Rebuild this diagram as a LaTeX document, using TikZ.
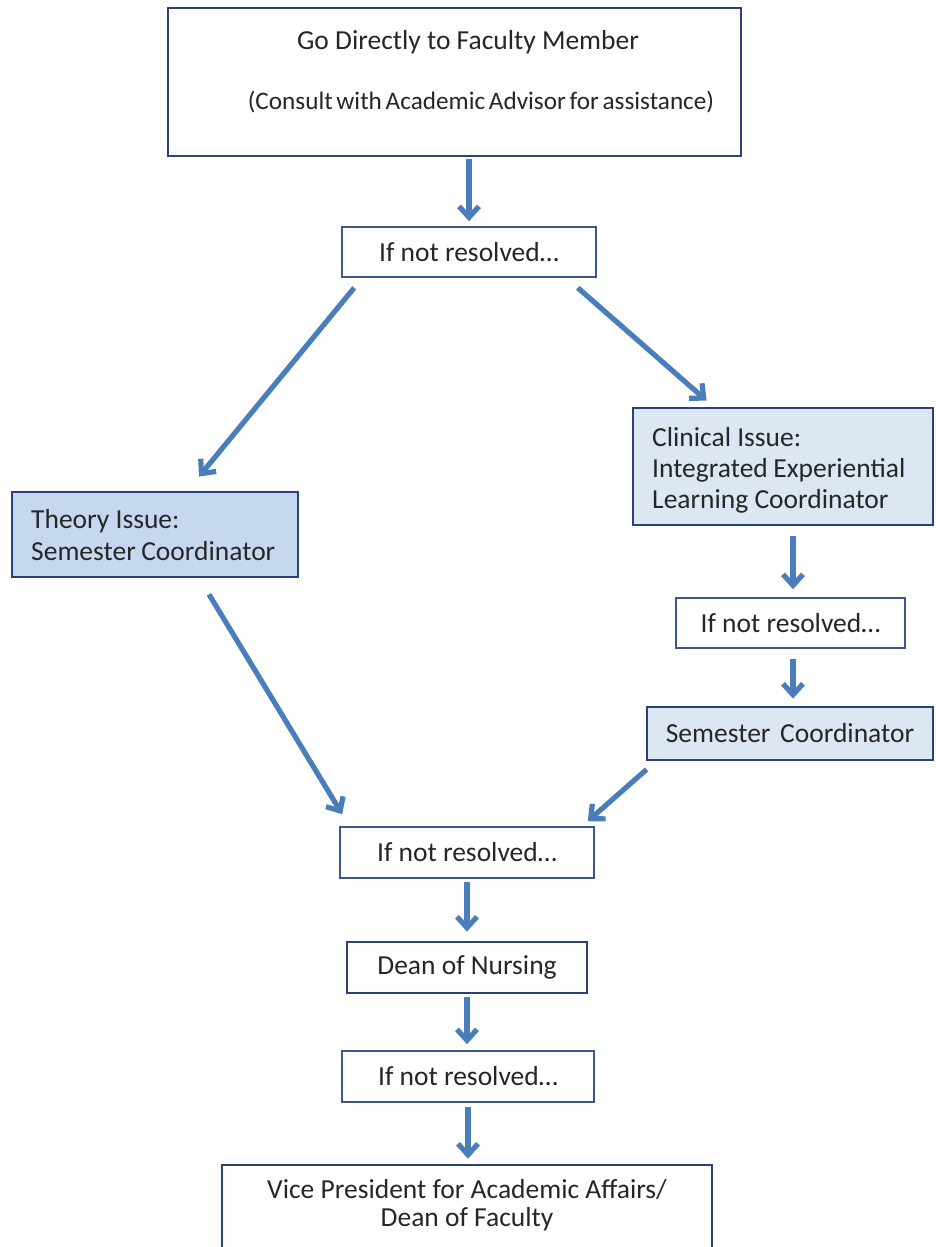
\documentclass[tikz,border=0pt]{standalone}
\usepackage{fontspec}
\setmainfont{Carlito}
\usetikzlibrary{arrows.meta,calc}

\definecolor{edgeblue}{RGB}{42,66,124}
\definecolor{thinblue}{RGB}{60,88,136}
\definecolor{arrowblue}{RGB}{74,126,187}
\definecolor{theoryfill}{RGB}{198,216,239}
\definecolor{paleblue}{RGB}{221,231,243}

\tikzset{
  x=1pt, y=-1pt,
  every node/.style={font=\fontsize{27.5}{31}\selectfont, text=black!85},
  mainbox/.style={rectangle, draw=edgeblue, line width=2.8pt, inner sep=0pt},
  ifbox/.style={rectangle, draw=thinblue, line width=1.6pt, fill=white, inner sep=0pt},
  flow/.style={draw=arrowblue, line width=5.2pt,
    -{Straight Barb[length=11pt, width=20pt, line join=miter]}},
  boxtext/.style={inner sep=0pt, anchor=base west},
  ctext/.style={inner sep=0pt, anchor=base}
}

\begin{document}
\begin{tikzpicture}
\clip (0,0) rectangle (936,1247);
\fill[white] (0,0) rectangle (936,1247);

% boxes
\node[mainbox, minimum width=573pt, minimum height=148pt] (top) at (454.5,82) {};
\node[ifbox, minimum width=254pt, minimum height=50pt] (if1) at (469,252) {If not resolved…};
\node[mainbox, fill=theoryfill, minimum width=286pt, minimum height=85pt] (theory) at (155,534.5) {};
\node[mainbox, fill=paleblue, minimum width=300pt, minimum height=117pt] (clinical) at (783,466.5) {};
\node[ifbox, minimum width=229pt, minimum height=50pt] (if2) at (790.5,623) {If not resolved…};
\node[mainbox, fill=paleblue, minimum width=286pt, minimum height=53pt] (sem) at (790,733.5) {Semester\hspace{0.35em}Coordinator};
\node[ifbox, minimum width=254pt, minimum height=51pt] (if3) at (467,852.5) {If not resolved…};
\node[mainbox, fill=white, minimum width=240pt, minimum height=51pt] (dean) at (467,967.5) {Dean of Nursing};
\node[ifbox, minimum width=252pt, minimum height=51pt] (if4) at (468,1076.5) {If not resolved…};
\node[mainbox, fill=white, minimum width=490pt, minimum height=124pt] (vp) at (467,1227) {};

% box texts
\node[ctext] (topA) at (468,49) {Go Directly to Faculty Member};
\node[ctext, font=\fontsize{25.2}{30}\selectfont] (topB) at (481,109)
  {\spaceskip=0.15em\relax (Consult with Academic Advisor for assistance)};
\node[boxtext] (thA) at (31,528) {Theory Issue:};
\node[boxtext] (thB) at (31,560) {Semester\hspace{0.2em}Coordinator};
\node[boxtext] (clA) at (652,446) {Clinical Issue:};
\node[boxtext] (clB) at (652,477) {Integrated\hspace{0.2em}Experiential};
\node[boxtext] (clC) at (652,508) {Learning Coordinator};
\node[ctext] (vpA) at (467,1198) {Vice President for Academic Affairs/};
\node[ctext] (vpB) at (467,1226) {Dean of Faculty};

% connectors
\draw[flow, shorten <=1.5pt, shorten >=5pt] (if1.north |- top.south) -- (if1.north);
\draw[flow] ($(if1.south west)+(13,10)$) -- ($(theory.north)+(44,-14)$);
\draw[flow] ($(if1.south east)+(-19,10)$) -- ($(clinical.north west)+(75,-6)$);
\draw[flow, shorten <=10pt, shorten >=8pt] ($(if2.north |- clinical.south)+(2.5,0)$) -- ($(if2.north)+(2.5,0)$);
\draw[flow, shorten <=10pt, shorten >=7pt] ($(if2.south)+(2.5,0)$) -- ($(if2.south |- sem.north)+(2.5,0)$);
\draw[flow] ($(theory.south)+(54,16)$) -- ($(if3.north west)+(3,-12)$);
\draw[flow] ($(sem.south west)+(1,8)$) -- ($(if3.north east)+(-7,-5)$);
\draw[flow, shorten <=3pt, shorten >=9pt] (if3.south) -- (dean.north);
\draw[flow, shorten <=3pt, shorten >=6pt] (dean.south) -- (dean.south |- if4.north);
\draw[flow, shorten <=4pt, shorten >=5pt] (if4.south) -- (if4.south |- vp.north);
\end{tikzpicture}
\end{document}
